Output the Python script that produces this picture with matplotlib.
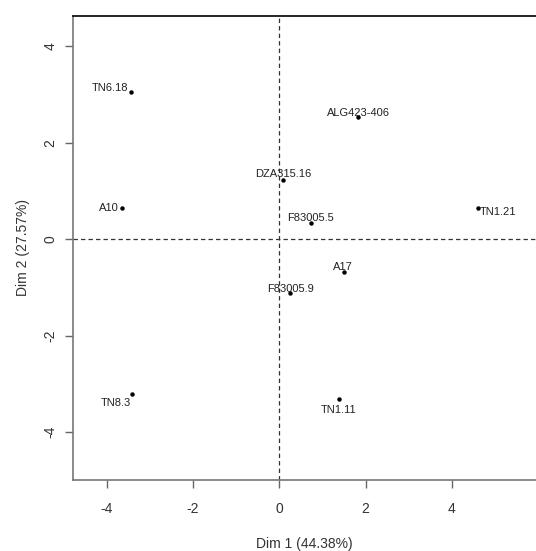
import matplotlib.pyplot as plt
import numpy as np

plt.rcParams['font.family'] = ['Liberation Sans', 'DejaVu Sans']

# individus - coordonnees sur les deux premiers axes de l'ACP
noms = ["TN6.18", "ALG423-406", "DZA315.16", "A10", "F83005.5",
        "TN1.21", "A17", "F83005.9", "TN1.11", "TN8.3"]
dim1 = [-3.44, 1.83, 0.09, -3.65, 0.73, 4.61, 1.51, 0.25, 1.38, -3.41]
dim2 = [3.05, 2.53, 1.23, 0.64, 0.33, 0.64, -0.68, -1.11, -3.32, -3.21]

inertie = [44.38, 27.57]
ticks = [-4, -2, 0, 2, 4]

# decalage des etiquettes (en points) pour eviter les chevauchements
decal = {
    "TN6.18": (-15, 3), "ALG423-406": (0, 3), "DZA315.16": (0, 4.5),
    "A10": (-9, 0), "F83005.5": (0, 4), "TN1.21": (14, -2.5),
    "A17": (-1, 4), "F83005.9": (0, 3), "TN1.11": (0, -7.5),
    "TN8.3": (-12, -6.5),
}

fig = plt.figure(figsize=(5.36, 5.51), dpi=100)
ax = fig.add_axes([73/536, 71/551, 1 - 73/536, 464/551])

ax.axhline(0, color='#333333', lw=0.9, ls=(0, (3.5, 2.5)))
ax.axvline(0, color='#333333', lw=0.9, ls=(0, (3.5, 2.5)))

ax.plot(dim1, dim2, 'o', color='black', ms=2.2, ls='none')

for n, x, y in zip(noms, dim1, dim2):
    dx, dy = decal[n]
    ax.annotate(n, (x, y), xytext=(dx, dy), textcoords='offset points',
                ha='center', va='center', fontsize=8, color='#222222')

ax.set_xlim(-4.78, 5.95)
ax.set_ylim(-4.99, 4.63)
ax.set_xticks(ticks)
ax.set_yticks(ticks)
ax.set_xticklabels([str(t) for t in ticks])
ax.set_yticklabels([str(t) for t in ticks], rotation=90, va='center')

ax.tick_params(axis='x', length=6, width=1, color='#666666', pad=10,
               labelsize=10, labelcolor='#333333')
ax.tick_params(axis='y', length=6, width=1, color='#666666', pad=5,
               labelsize=10, labelcolor='#333333')

ax.spines['left'].set_color('#777777')
ax.spines['bottom'].set_color('#777777')
ax.spines['left'].set_linewidth(1.2)
ax.spines['bottom'].set_linewidth(1.2)
ax.spines['top'].set_color('black')
ax.spines['top'].set_linewidth(1.2)
ax.spines['right'].set_visible(False)

ax.set_xlabel("Dim 1 (%.2f%%)" % inertie[0], fontsize=10, color='#333333', labelpad=15)
ax.set_ylabel("Dim 2 (%.2f%%)" % inertie[1], fontsize=10, color='#333333', labelpad=10)

fig.savefig("out.png", dpi=100)
